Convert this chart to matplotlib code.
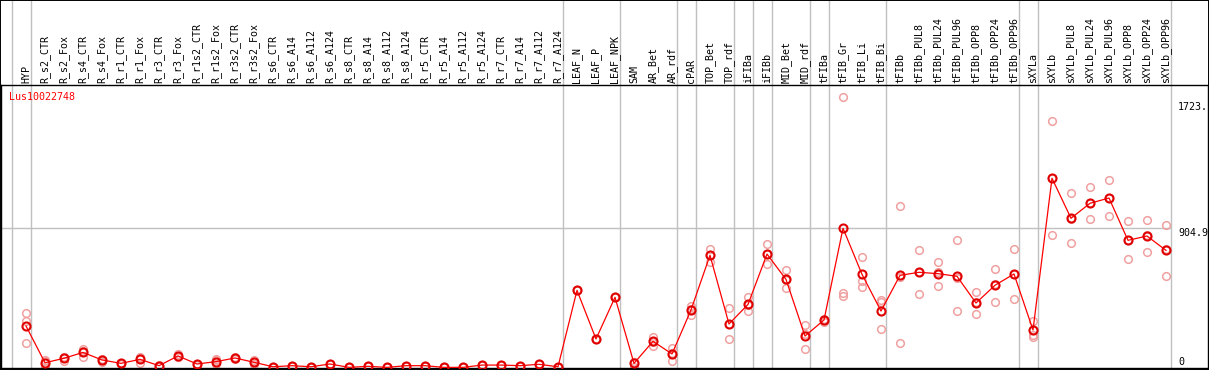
import matplotlib
matplotlib.use("Agg")
import matplotlib.pyplot as plt
import numpy as np
from matplotlib.patches import Rectangle

GENE = "Lus10022748"

samples = [
    "HYP", "R_s2_CTR", "R_s2_Fox", "R_s4_CTR", "R_s4_Fox", "R_r1_CTR", "R_r1_Fox",
    "R_r3_CTR", "R_r3_Fox", "R_r1s2_CTR", "R_r1s2_Fox", "R_r3s2_CTR", "R_r3s2_Fox",
    "R_s6_CTR", "R_s6_A14", "R_s6_A112", "R_s6_A124", "R_s8_CTR", "R_s8_A14",
    "R_s8_A112", "R_s8_A124", "R_r5_CTR", "R_r5_A14", "R_r5_A112", "R_r5_A124",
    "R_r7_CTR", "R_r7_A14", "R_r7_A112", "R_r7_A124", "LEAF_N", "LEAF_P", "LEAF_NPK",
    "SAM", "AR_Bet", "AR_rdf", "cPAR", "TOP_Bet", "TOP_rdf", "iFIBa", "iFIBb",
    "MID_Bet", "MID_rdf", "tFIBa", "tFIB_Gr", "tFIB_Li", "tFIB_Bi", "tFIBb",
    "tFIBb_PUL8", "tFIBb_PUL24", "tFIBb_PUL96", "tFIBb_OPP8", "tFIBb_OPP24",
    "tFIBb_OPP96", "sXYLa", "sXYLb", "sXYLb_PUL8", "sXYLb_PUL24", "sXYLb_PUL96",
    "sXYLb_OPP8", "sXYLb_OPP24", "sXYLb_OPP96",
]

means = [
    272, 34, 63, 101, 52, 30, 56, 15, 78, 26, 41, 65, 37,
    8, 15, 8, 26, 4, 11, 4, 15, 15, 4, 4, 19, 19, 15, 24, 8,
    503, 188, 458,
    30, 173, 91, 376, 730, 285, 412, 738, 574, 207, 311,
    904.9, 607, 369,
    600, 620, 611, 594, 421, 536, 609,
    246,
    1229, 970, 1067, 1101, 827, 855, 762,
]

rep_a = [
    356, 52, 73, 123, 60, 35, 71, 18, 91, 28, 56, 70, 52,
    8, 15, 8, 26, 4, 11, 4, 15, 15, 4, 4, 19, 19, 15, 24, 8,
    503, 188, 458,
    40, 203, 132, 402, 771, 387, 458, 803, 633, 277, 320,
    1757, 717, 440,
    1049, 762, 685, 827, 490, 639, 769,
    306,
    1598, 1132, 1170, 1218, 950, 957, 924,
]
rep_b = [
    304, 48, 45, 73, 40, 25, 30, 12, 69, 22, 26, 58, 26,
    8, 15, 8, 26, 4, 11, 4, 15, 15, 4, 4, 19, 19, 15, 24, 8,
    503, 188, 458,
    8, 145, 43, 343, 689, 186, 371, 674, 516, 125, 300,
    488, 566, 427,
    160, 477, 529, 369, 348, 426, 447,
    214,
    860, 812, 963, 982, 704, 749, 594,
]
rep_c = [
    162, 2, 70, 107, 55, 30, 66, 15, 74, 24, 52, 63, 39,
    8, 15, 8, 26, 4, 11, 4, 15, 15, 4, 4, 19, 19, 15, 24, 8,
    503, 188, 458,
    42, 171, 98, 383, 730, 282, 407, 737, 573, 219, 313,
    468, 527, 251,
    591, 621, 619, 586, 425, 543, 611,
    199,
    1229, 966, 1068, 1103, 827, 859, 768,
]

# index of the last sample in each tissue group
group_ends = [-1, 0, 28, 31, 34, 35, 37, 38, 39, 41, 42, 45, 52, 53, 60]

y_ticks = [1723, 904.9, 0]
y_tick_labels = ["1723.", "904.9", "0"]

W, H = 1209, 370
fig = plt.figure(figsize=(W / 100, H / 100), dpi=100)

# plot panel in pixel terms: x 1..1208, y 85..368 (from top)
ax = fig.add_axes([1 / W, 2 / H, 1207 / W, 283 / H])
x = np.arange(len(samples))
ax.set_xlim((1 - 26) / 19, (1208 - 26) / 19)
ax.set_ylim(0, 283 * 904.9 / 139.7)

for end in group_ends:
    ax.axvline(end + 0.25, ymin=0, ymax=368 / 283, color="#c0c0c0", lw=1.0,
               clip_on=False, zorder=1)
ax.hlines(904.9, ax.get_xlim()[0], 60.25, color="#c0c0c0", lw=1.0, zorder=1)

for reps in (rep_a, rep_b, rep_c):
    ax.plot(x, reps, "o", ms=5.5, mfc="none", mec="#f0a0a0", mew=1.1,
            clip_on=False, zorder=2)

ax.plot(x, means, "-", color="red", lw=0.9, zorder=3)
ax.plot(x, means, "o", ms=5.8, mfc="none", mec="#e00000", mew=1.5,
        clip_on=False, zorder=4)

mono = "DejaVu Sans Mono"
ax.xaxis.tick_top()
ax.set_xticks(x)
ax.set_xticklabels(samples, rotation=90, fontsize=7.2, family=mono, va="bottom")
ax.tick_params(axis="x", length=0, pad=1.5)
ax.set_yticks([])

ax.text(-0.9, 1755, GENE, color="red", fontsize=7.2, family=mono,
        ha="left", va="center")

xr = (1178 - 26) / 19
ax.text(xr, y_ticks[0], y_tick_labels[0], fontsize=7.2, family=mono, ha="left", va="top")
ax.text(xr, y_ticks[1], y_tick_labels[1], fontsize=7.2, family=mono, ha="left", va="top")
ax.text(xr, y_ticks[2] + 8, y_tick_labels[2], fontsize=7.2, family=mono, ha="left", va="bottom")

for side in ax.spines.values():
    side.set_color("black")
    side.set_linewidth(1.0)

fig.patches.append(Rectangle((0, 0), 1, 1, transform=fig.transFigure,
                             fill=False, edgecolor="black", lw=1.4))

fig.savefig("out.png", dpi=100)
